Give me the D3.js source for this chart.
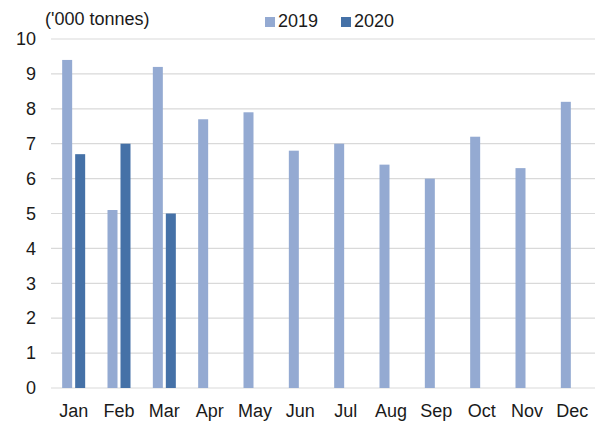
<!DOCTYPE html>
<html>
<head>
<meta charset="utf-8">
<script src="https://cdn.jsdelivr.net/npm/d3@7/dist/d3.min.js"></script>
<style>
  html, body { margin: 0; padding: 0; background: #fff; }
  svg { display: block; font-family: "Liberation Sans", Arial, sans-serif; }
</style>
</head>
<body>
<svg id="chart" width="600" height="423"></svg>
<script>
// Monthly volumes, thousand tonnes
const months = ["Jan","Feb","Mar","Apr","May","Jun","Jul","Aug","Sep","Oct","Nov","Dec"];
const values2019 = [9.4, 5.1, 9.2, 7.7, 7.9, 6.8, 7.0, 6.4, 6.0, 7.2, 6.3, 8.2];
const values2020 = [6.7, 7.0, 5.0];
const yTicks = [0,1,2,3,4,5,6,7,8,9,10];
const seriesNames = ["2019", "2020"];
const colors = ["#94aad2", "#4571a7"];

const svg = d3.select("#chart");
const margin = { left: 51, right: 5, top: 39, bottom: 35 };
const W = 600, H = 423;
const fontSize = 18;
const textColor = "#1a1a1a";

const x = d3.scaleBand().domain(months).range([margin.left, W - margin.right]).paddingInner(0).paddingOuter(0);
const y = d3.scaleLinear().domain([0, 10]).range([H - margin.bottom, margin.top]);

// Gridlines
svg.append("g")
  .selectAll("line")
  .data(yTicks)
  .join("line")
  .attr("x1", margin.left).attr("x2", W - margin.right)
  .attr("y1", d => y(d)).attr("y2", d => y(d))
  .attr("stroke", "#d9d9d9").attr("stroke-width", 1.2);

// Bars: two slots per month, 2019 on the left
const barW = 10, gap = 3;
const slot = d3.scaleOrdinal().domain([0, 1]).range([
  x.bandwidth() / 2 - barW - gap / 2,
  x.bandwidth() / 2 + gap / 2
]);

const series = [values2019, values2020];
series.forEach((vals, si) => {
  svg.append("g")
    .selectAll("rect")
    .data(vals)
    .join("rect")
    .attr("x", (d, i) => x(months[i]) + slot(si))
    .attr("y", d => y(d))
    .attr("width", barW)
    .attr("height", d => y(0) - y(d))
    .attr("fill", colors[si]);
});

// Y axis labels
const yAxis = d3.axisLeft(y).tickValues(yTicks).tickSize(0).tickPadding(0).tickFormat(d3.format("d"));
const gy = svg.append("g").attr("transform", `translate(${36},0)`).call(yAxis);
gy.select(".domain").remove();
gy.selectAll("text").attr("font-size", fontSize).attr("fill", textColor)
  .attr("font-family", "Liberation Sans, Arial, sans-serif");

// X axis labels
const xAxis = d3.axisBottom(x).tickSize(0).tickPadding(0);
const gx = svg.append("g").attr("transform", `translate(0,${y(0)})`).call(xAxis);
gx.select(".domain").remove();
gx.selectAll("text").attr("font-size", fontSize).attr("fill", textColor)
  .attr("font-family", "Liberation Sans, Arial, sans-serif")
  .attr("y", 29).attr("dy", 0);

// Unit label
svg.append("text")
  .attr("x", 45).attr("y", 25)
  .attr("font-size", fontSize).attr("fill", textColor)
  .text("('000 tonnes)");

// Legend
const legend = svg.append("g");
const legendX = [265, 341];
seriesNames.forEach((name, i) => {
  legend.append("rect")
    .attr("x", legendX[i]).attr("y", 17)
    .attr("width", 10).attr("height", 10)
    .attr("fill", colors[i]);
  legend.append("text")
    .attr("x", legendX[i] + 13).attr("y", 27)
    .attr("font-size", fontSize).attr("fill", textColor)
    .text(name);
});
</script>
</body>
</html>
